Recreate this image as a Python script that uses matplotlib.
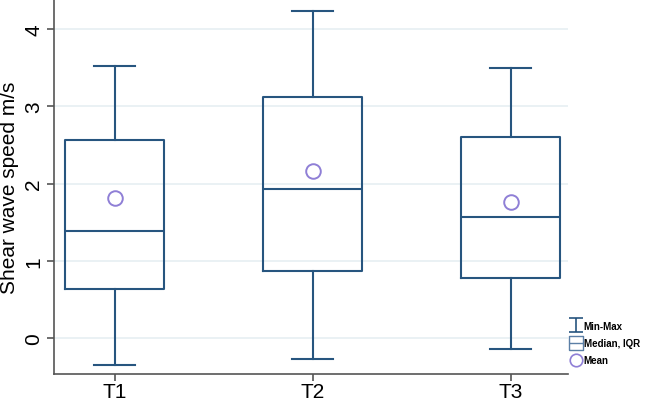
import matplotlib
matplotlib.use("Agg")
import matplotlib.pyplot as plt
from matplotlib.lines import Line2D
from matplotlib.path import Path

plt.rcParams['font.family'] = ['Liberation Sans', 'DejaVu Sans']

groups = ["T1", "T2", "T3"]
mins = [-0.34, -0.27, -0.14]
q1s = [0.64, 0.87, 0.78]
medians = [1.39, 1.93, 1.57]
q3s = [2.57, 3.12, 2.60]
maxs = [3.52, 4.24, 3.49]
means = [1.82, 2.16, 1.76]
yticks = [0, 1, 2, 3, 4]

navy = "#27557f"
purple = "#8f7fd6"
grid_c = "#e8f0f3"
spine_c = "#555555"

fig = plt.figure(figsize=(6.47, 4.02), dpi=100)
ax = fig.add_axes([54.3 / 647, 27 / 402, (568 - 54.3) / 647, 375 / 402])

stats = []
for g, lo, a, m, b, hi, mu in zip(groups, mins, q1s, medians, q3s, maxs, means):
    stats.append(dict(label=g, whislo=lo, q1=a, med=m, q3=b, whishi=hi, mean=mu, fliers=[]))

pos = list(range(1, len(groups) + 1))
ax.bxp(stats, positions=pos, widths=0.5, capwidths=0.21, showmeans=True, showfliers=False,
       boxprops=dict(color=navy, linewidth=1.5),
       whiskerprops=dict(color=navy, linewidth=1.5),
       capprops=dict(color=navy, linewidth=1.5),
       medianprops=dict(color=navy, linewidth=1.5),
       meanprops=dict(marker='o', markerfacecolor='none', markeredgecolor=purple,
                      markersize=10.5, markeredgewidth=1.4))

ax.set_xlim(0.695, 3.29)
ax.set_ylim(-0.462, 4.389)
ax.set_yticks(yticks)
ax.set_yticklabels([str(t) for t in yticks])
ax.tick_params(axis='y', labelrotation=90, labelsize=15, length=5, width=1.2, color=spine_c, pad=3)
ax.tick_params(axis='x', labelsize=15, length=5, width=1.2, color=spine_c, pad=1)
for lab in ax.get_yticklabels():
    lab.set_va('center')
ax.yaxis.grid(True, color=grid_c, linewidth=1.3)
ax.set_axisbelow(True)
for s in ['top', 'right']:
    ax.spines[s].set_visible(False)
for s in ['left', 'bottom']:
    ax.spines[s].set_color(spine_c)
    ax.spines[s].set_linewidth(1.2)
ax.set_ylabel("Shear wave speed m/s", fontsize=15, labelpad=4)

# legend handles
ibeam = Path([(-0.5, 0.5), (0.5, 0.5), (0, 0.5), (0, -0.5), (-0.5, -0.5), (0.5, -0.5)],
             [Path.MOVETO, Path.LINETO, Path.MOVETO, Path.LINETO, Path.MOVETO, Path.LINETO])
boxicon = Path([(-0.5, -0.5), (0.5, -0.5), (0.5, 0.5), (-0.5, 0.5), (-0.5, -0.5), (-0.5, 0), (0.5, 0)],
               [Path.MOVETO, Path.LINETO, Path.LINETO, Path.LINETO, Path.LINETO, Path.MOVETO, Path.LINETO])
handles = [
    Line2D([], [], linestyle='none', marker=ibeam, markersize=10, markeredgecolor=navy,
           markerfacecolor='none', markeredgewidth=1.2),
    Line2D([], [], linestyle='none', marker=boxicon, markersize=10.5, markeredgecolor="#5b7fa6",
           markerfacecolor='none', markeredgewidth=1.0),
    Line2D([], [], linestyle='none', marker='o', markersize=9, markeredgecolor=purple,
           markerfacecolor='none', markeredgewidth=1.2),
]
leg = fig.legend(handles, ["Min-Max", "Median, IQR", "Mean"], loc='center left',
                 bbox_to_anchor=(571 / 647, 1 - 344 / 402), frameon=False,
                 prop=dict(size=7, weight='bold'), handlelength=1.1, handletextpad=0.2,
                 labelspacing=0.75, borderpad=0, borderaxespad=0)

fig.savefig("out.png", dpi=100)
